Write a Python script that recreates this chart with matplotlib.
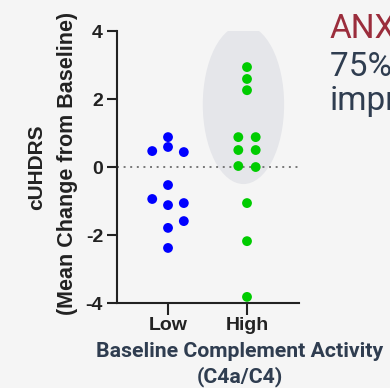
#!/usr/bin/env python3
"""cUHDRS change by baseline complement activity group."""

import matplotlib

matplotlib.use("Agg")
import matplotlib.pyplot as plt
from matplotlib.patches import Ellipse

# mean change from baseline, one value per patient
low_x = [-0.2, 0.0, 0.0, 0.2, 0.0, -0.2, 0.0, 0.2, 0.2, 0.0, 0.0]
low_y = [0.47, 0.88, 0.59, 0.44, -0.53, -0.94, -1.12, -1.06, -1.59, -1.79, -2.38]
high_x = [1.0, 1.0, 1.0, 0.89, 1.11, 0.89, 1.11, 0.89, 1.11, 1.0, 1.0, 1.0]
high_y = [2.94, 2.59, 2.26, 0.88, 0.88, 0.50, 0.50, 0.03, 0.00, -1.06, -2.18, -3.82]
groups = ["Low", "High"]
yticks = [-4, -2, 0, 2, 4]

BG = "#f5f5f5"
SLATE = "#2f3d50"

fig = plt.figure(figsize=(3.9, 3.88), dpi=100, facecolor=BG)
ax = fig.add_axes([0.30, 0.219, 0.467, 0.701], facecolor=BG)

# responder group highlight
ax.add_patch(Ellipse((0.955, 1.84), 1.03, 4.68, facecolor="#e5e6ea", edgecolor="none", zorder=0))
ax.plot([-0.646, 1.66], [0, 0], ls=(0, (1, 2.4)), color="#777777", lw=1.4, zorder=1)

ax.scatter(low_x, low_y, s=50, color="#0000ff", edgecolors="none", zorder=3)
ax.scatter(high_x, high_y, s=50, color="#00cc00", edgecolors="none", zorder=3)

ax.set_xlim(-0.646, 1.66)
ax.set_ylim(-4, 4)
ax.set_xticks([0, 1])
ax.set_xticklabels(groups)
ax.set_yticks(yticks)
ax.set_yticklabels([str(v) if v >= 0 else "-" + str(-v) for v in yticks])
for side in ("top", "right"):
    ax.spines[side].set_visible(False)
for side in ("left", "bottom"):
    ax.spines[side].set_linewidth(1.5)
    ax.spines[side].set_color("#222222")
ax.tick_params(axis="y", length=7, width=1.5, color="#222222", pad=3)
ax.tick_params(axis="x", length=8.5, width=1.5, color="#222222", pad=1.5)
for lab in ax.get_xticklabels() + ax.get_yticklabels():
    lab.set_fontfamily("Liberation Sans")
    lab.set_fontweight("bold")
    lab.set_fontsize(14)
    lab.set_color("#222222")

fig.text(0.095, 0.570, "cUHDRS", rotation=90, ha="center", va="center",
         family="Liberation Sans", weight="bold", fontsize=15, color="#222222")
fig.text(0.172, 0.579, "(Mean Change from Baseline)", rotation=90, ha="center", va="center",
         family="Liberation Sans", weight="bold", fontsize=15.5, color="#222222")

fig.text(0.614, 0.095, "Baseline Complement Activity", ha="center", va="center",
         family="Roboto", weight="bold", fontsize=15.3, color=SLATE)
fig.text(0.615, 0.030, "(C4a/C4)", ha="center", va="center",
         family="Roboto", weight="bold", fontsize=15.3, color=SLATE)

fig.text(0.846, 0.903, "ANX005", ha="left", va="baseline",
         family="Roboto", fontsize=24, color="#9b2d3c")
fig.text(0.845, 0.805, "75% of", ha="left", va="baseline",
         family="Roboto", fontsize=24, color=SLATE)
fig.text(0.845, 0.716, "improved", ha="left", va="baseline",
         family="Roboto", fontsize=24, color=SLATE)

fig.savefig("out.png", dpi=100, facecolor=BG)
